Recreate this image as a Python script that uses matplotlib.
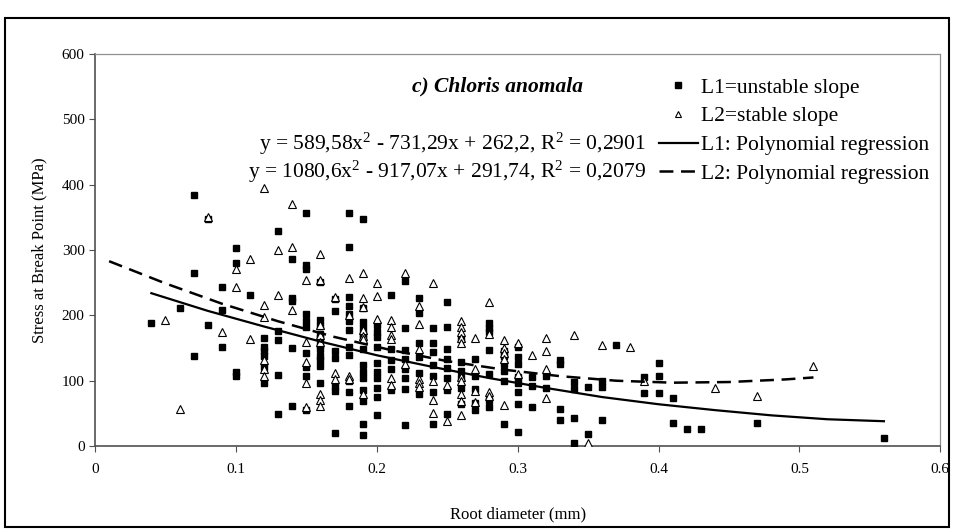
import numpy as np
import matplotlib
matplotlib.use("Agg")
import matplotlib.pyplot as plt
from matplotlib.patches import Rectangle
from matplotlib.lines import Line2D

plt.rcParams['font.family'] = ['Liberation Serif', 'DejaVu Serif']
plt.rcParams['mathtext.fontset'] = 'custom'
plt.rcParams['mathtext.rm'] = 'Liberation Serif'
plt.rcParams['mathtext.it'] = 'Liberation Serif:italic'
plt.rcParams['lines.scale_dashes'] = False

# L1 = unstable slope, one list of stress values per root diameter
l1_diam = [0.04, 0.06, 0.07, 0.08, 0.09, 0.10, 0.11, 0.12, 0.13, 0.14,
           0.15, 0.16, 0.17, 0.18, 0.19, 0.20, 0.21, 0.22, 0.23, 0.24,
           0.25, 0.26, 0.27, 0.28, 0.29, 0.30, 0.31, 0.32, 0.33, 0.34,
           0.35, 0.36, 0.37, 0.39, 0.40, 0.41, 0.42, 0.43, 0.47, 0.56]
l1_stress = [
    [189], [212], [385, 265, 138], [347, 185], [244, 208, 151],
    [303, 281, 114, 108], [232], [165, 152, 145, 138, 121, 97],
    [330, 176, 163, 109, 49], [287, 227, 222, 150, 62],
    [357, 277, 271, 202, 192, 182, 143, 121, 108, 55],
    [251, 193, 184, 172, 165, 155, 148, 138, 132, 122, 97],
    [225, 207, 145, 135, 92, 85, 20],
    [357, 305, 228, 215, 202, 192, 178, 152, 140, 99, 82, 62],
    [347, 211, 190, 180, 172, 165, 149, 124, 114, 104, 86, 69, 33, 17],
    [186, 175, 167, 152, 127, 114, 104, 89, 75, 47],
    [231, 148, 132, 118, 86],
    [253, 181, 147, 133, 118, 104, 88, 32],
    [227, 204, 157, 137, 112, 79],
    [180, 157, 144, 124, 108, 82, 33],
    [220, 183, 149, 133, 119, 104, 86, 49],
    [164, 128, 115, 104, 89, 64],
    [133, 108, 88, 66, 55],
    [188, 180, 174, 147, 110, 70, 60],
    [145, 138, 126, 115, 100, 34],
    [152, 137, 126, 105, 96, 82, 65, 21],
    [105, 92, 60], [108, 89], [131, 126, 57, 40], [98, 88, 43, 4],
    [90, 18], [100, 91, 40], [155], [105, 81], [127, 107, 81],
    [74, 36], [26], [26], [36], [13]]

# L2 = stable slope
l2_diam = [0.05, 0.06, 0.08, 0.09, 0.10, 0.11, 0.12, 0.13, 0.14, 0.15,
           0.16, 0.17, 0.18, 0.19, 0.20, 0.21, 0.22, 0.23, 0.24, 0.25,
           0.26, 0.27, 0.28, 0.29, 0.30, 0.31, 0.32, 0.34, 0.35, 0.36,
           0.38, 0.39, 0.44, 0.47, 0.51]
l2_stress = [
    [193], [56], [350], [174], [271, 244], [286, 164],
    [395, 216, 198, 131, 118, 108], [300, 232], [370, 305, 209],
    [254, 160, 128, 96, 60],
    [294, 254, 185, 170, 160, 80, 71, 61],
    [228, 112, 103], [257, 200, 108, 103],
    [265, 227, 213, 177, 169, 164, 79],
    [249, 229, 194], [193, 182, 170, 164, 104, 94], [265, 126],
    [215, 187, 148, 103, 97, 91], [249, 99, 71, 50], [94, 39],
    [192, 183, 174, 165, 157, 106, 99, 79, 69, 48],
    [165, 118, 85, 68], [221, 172, 82, 76], [162, 150, 142, 133, 63],
    [157, 111], [140], [166, 145, 118, 74], [170], [5], [155],
    [152], [99], [89], [77], [122]]

# regression curves
fit1_x = [0.04, 0.08, 0.12, 0.16, 0.20, 0.24, 0.28, 0.32, 0.36, 0.40, 0.44, 0.48, 0.52, 0.56]
fit1_y = [234, 207, 183, 160, 139, 121, 104, 89, 75, 64, 55, 47, 41, 38]
fit2_x = [0.01, 0.05, 0.09, 0.13, 0.17, 0.21, 0.25, 0.29, 0.33, 0.37, 0.41, 0.45, 0.49, 0.51]
fit2_y = [283, 249, 218, 191, 167, 147, 130, 117, 107, 100, 97, 98, 102, 105]

eq1 = r"y = 589,58x$^{2}$ - 731,29x + 262,2, R$^{2}$ = 0,2901"
eq2 = r"y = 1080,6x$^{2}$ - 917,07x + 291,74, R$^{2}$ = 0,2079"


def expand(diam, stress):
    xs, ys = [], []
    for d, col in zip(diam, stress):
        xs += [d] * len(col)
        ys += col
    return xs, ys


l1_x, l1_y = expand(l1_diam, l1_stress)
l2_x, l2_y = expand(l2_diam, l2_stress)

fig = plt.figure(figsize=(9.54, 5.31), dpi=100)
fig.patches.append(Rectangle((0.005, 0.008), 0.99, 0.958, transform=fig.transFigure,
                             fill=False, edgecolor='black', linewidth=1.5))
ax = fig.add_axes([0.0996, 0.160, 0.886, 0.738])

ax.plot(l1_x, l1_y, ls='none', marker='s', ms=4.6, mfc='black', mec='black', zorder=3)
ax.plot(l2_x, l2_y, ls='none', marker='^', ms=5.5, mfc='white', mec='black', mew=0.8, zorder=3)
ax.plot(fit1_x, fit1_y, color='black', lw=1.6, zorder=4)
ax.plot(fit2_x, fit2_y, color='black', lw=1.8, dashes=(10, 5.5), zorder=4)

ax.set_xlim(0, 0.6)
ax.set_ylim(0, 600)
ax.set_xticks([0, 0.1, 0.2, 0.3, 0.4, 0.5, 0.6])
ax.set_xticklabels(['0', '0.1', '0.2', '0.3', '0.4', '0.5', '0.6'])
ax.set_yticks(range(0, 601, 100))
ax.tick_params(direction='out', length=4, labelsize=11, color='#505050')
ax.tick_params(axis='x', pad=8)
for s in ['left', 'bottom']:
    ax.spines[s].set_color('#505050')
    ax.spines[s].set_linewidth(1.2)
for s in ['top', 'right']:
    ax.spines[s].set_color('#909090')
    ax.spines[s].set_linewidth(0.9)

ax.set_xlabel('Root diameter (mm)', fontsize=12, labelpad=22)
ax.set_ylabel('Stress at Break Point (MPa)', fontsize=12, labelpad=10)

ax.text(0.286, 551, 'c) Chloris anomala', fontsize=15.5, fontweight='bold',
        style='italic', ha='center', va='center')
ax.text(0.391, 462, eq1, fontsize=15.5, ha='right', va='center')
ax.text(0.391, 419, eq2, fontsize=15.5, ha='right', va='center')

handles = [
    Line2D([], [], ls='none', marker='s', ms=4.5, mfc='black', mec='black'),
    Line2D([], [], ls='none', marker='^', ms=5, mfc='white', mec='black', mew=0.8),
    Line2D([], [], color='black', lw=1.6),
    Line2D([], [], color='black', lw=1.8, dashes=(10, 5.5)),
]
labels = ['L1=unstable slope', 'L2=stable slope',
          'L1: Polynomial regression', 'L2: Polynomial regression']
ax.legend(handles, labels, loc='upper right', bbox_to_anchor=(0.997, 0.962),
          frameon=False, fontsize=15.5, labelspacing=0.4, handlelength=1.8,
          handletextpad=0.15, borderaxespad=0)

fig.savefig('out.png', dpi=100)
